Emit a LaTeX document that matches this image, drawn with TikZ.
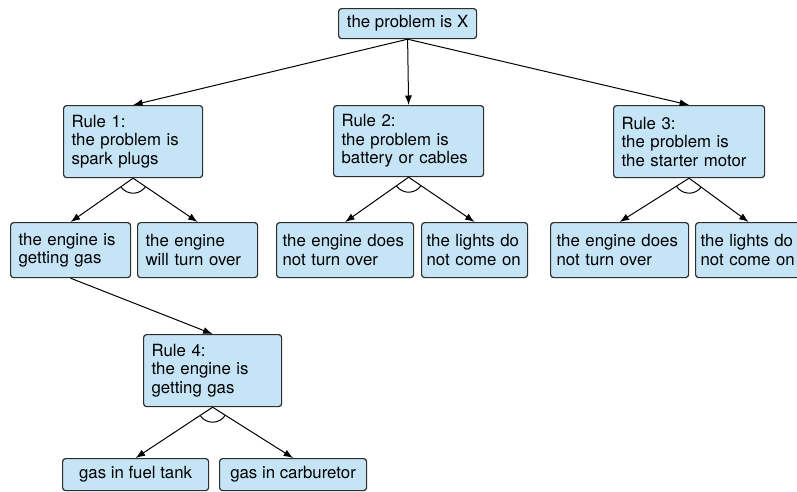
\documentclass[tikz,border=0pt]{standalone}
\usepackage{fontspec}
\setmainfont{TeX Gyre Heros}
\usetikzlibrary{arrows.meta,angles}
\definecolor{boxblue}{RGB}{197,228,245}
\definecolor{boxline}{RGB}{45,45,45}
\begin{document}
\begin{tikzpicture}[x=1pt,y=-1pt,
  box/.style={draw=boxline, line width=1.2pt, rounded corners=3pt, fill=boxblue,
    anchor=north west, inner xsep=8pt, inner ysep=0pt, align=left,
    font=\fontsize{16.8}{18.5}\selectfont},
  narrow/.style={inner xsep=5pt, text width=96pt},
  link/.style={line width=1pt, -{Latex[length=9.5pt,width=7pt]}},
  andarc/.style={draw, line width=1pt, angle radius=15pt}]
\useasboundingbox (0,0) rectangle (797,491);

% goal
\node[box, minimum width=138pt, minimum height=30pt] (top) at (338,8) {the problem is X};

% rules
\node[box, text width=123pt, minimum height=72pt] (r1) at (63,105) {Rule 1:\\the problem is\\spark plugs};
\node[box, text width=134pt, minimum height=71pt] (r2) at (333,105) {Rule 2:\\the problem is\\battery or cables};
\node[box, text width=135pt, minimum height=72pt] (r3) at (613,105) {Rule 3:\\the problem is\\the starter motor};

% conditions
\node[box, text width=104pt, minimum height=55pt] (a1) at (10,222) {the engine is\\getting gas};
\node[box, text width=104pt, minimum height=55pt] (a2) at (137,222) {the engine\\will turn over};
\node[box, inner xsep=6pt, text width=125pt, minimum height=55pt] (b1) at (276,222) {the engine does\\not turn over};
\node[box, narrow, minimum height=55pt] (b2) at (421,222) {the lights do\\not come on};
\node[box, inner xsep=6pt, text width=126pt, minimum height=55pt] (c1) at (550,222) {the engine does\\not turn over};
\node[box, narrow, minimum height=55pt] (c2) at (695,222) {the lights do\\not come on};

\node[box, text width=122pt, minimum height=72pt] (r4) at (143,334) {Rule 4:\\the engine is\\getting gas};
\node[box, minimum width=146pt, minimum height=32pt] (d1) at (62,458) {gas in fuel tank};
\node[box, minimum width=147pt, minimum height=32pt] (d2) at (219,458) {gas in carburetor};

% goal to rules
\draw[link] (top.south) -- (r1.north);
\draw[link] (top.south) -- (r2.north);
\draw[link] (top.south) -- (r3.north);

% rules to their conditions, with the arc joining each pair
\foreach \r/\p/\q in {r1/a1/a2, r2/b1/b2, r3/c1/c2, r4/d1/d2}{
  \coordinate (\r s) at (\r.south);
  \coordinate (\p n) at (\p.north);
  \coordinate (\q n) at (\q.north);
  \draw[link] (\r s) -- (\p n);
  \draw[link] (\r s) -- (\q n);
  \pic[andarc] {angle = \p n--\r s--\q n};
}

\draw[link] (a1.south) -- (r4.north);
\end{tikzpicture}
\end{document}
